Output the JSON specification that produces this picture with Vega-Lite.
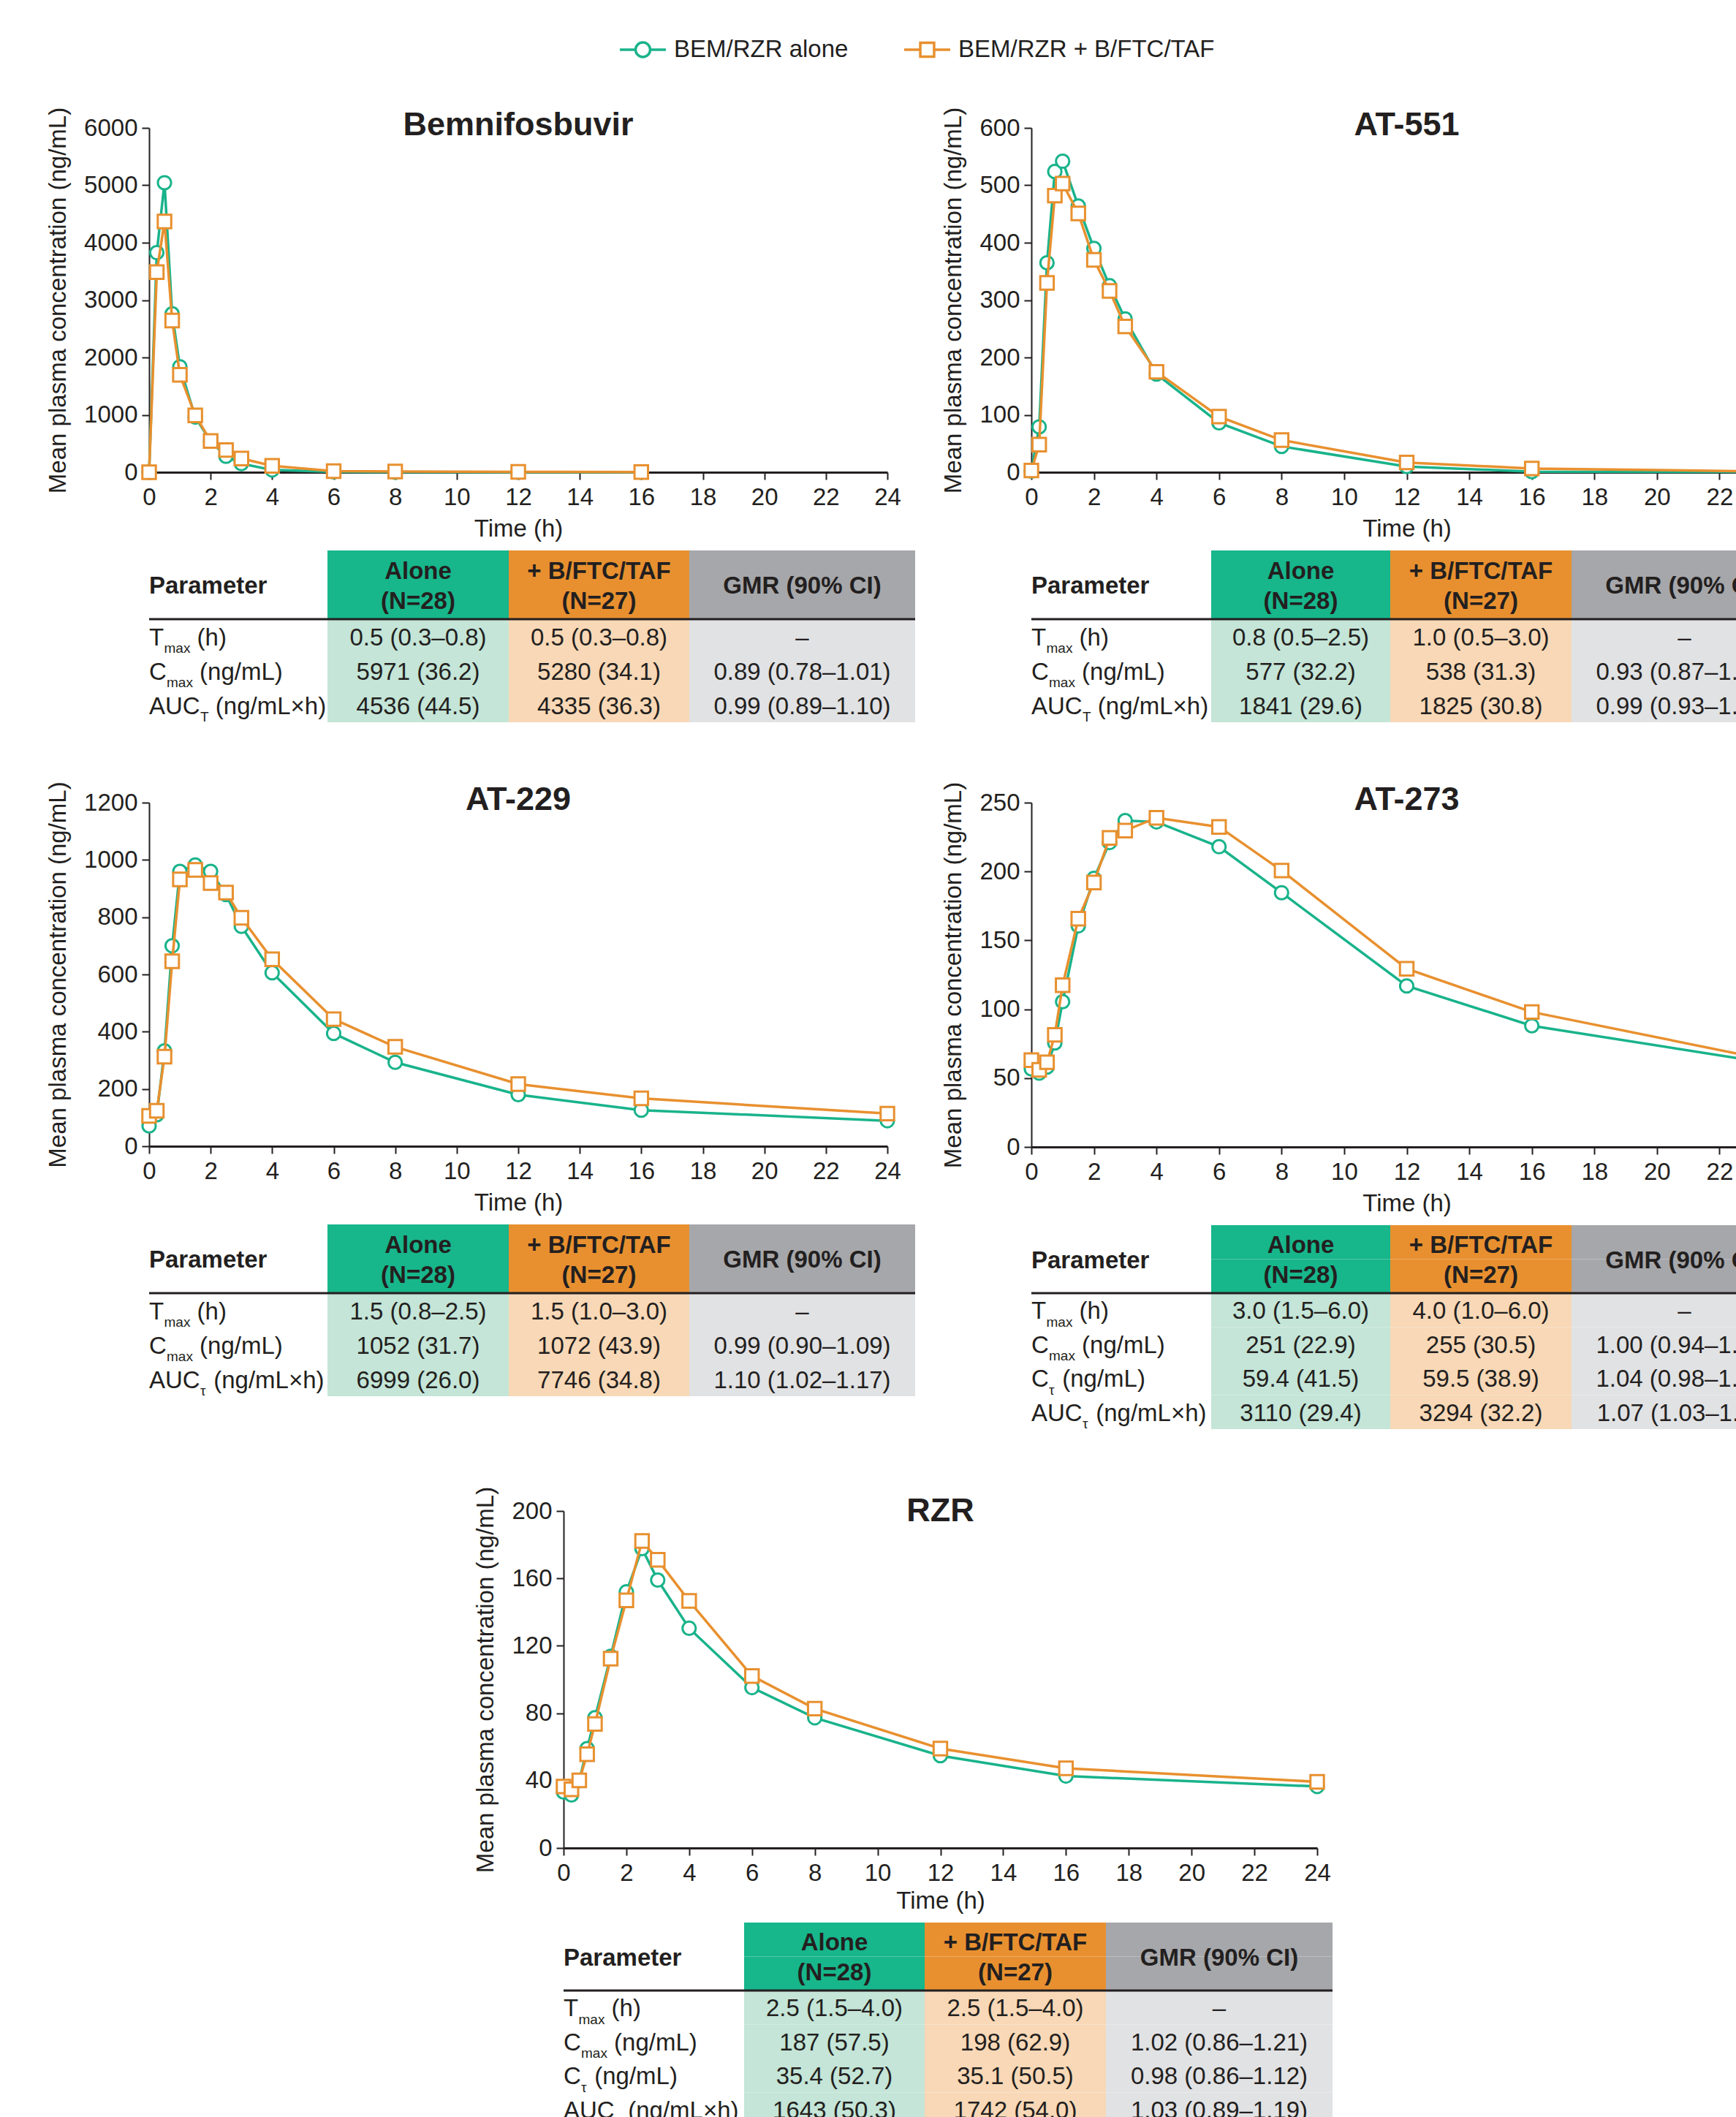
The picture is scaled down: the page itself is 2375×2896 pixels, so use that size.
{
"$schema":"https://vega.github.io/schema/vega-lite/v6.json",
"padding":{"left":63,"top":34,"right":0,"bottom":0},
"config":{
 "font":"Liberation Sans",
 "view":{"stroke":null},
 "axis":{"labelFont":"Liberation Sans","labelFontSize":33,"labelColor":"#231f20","titleFont":"Liberation Sans","titleFontSize":33,"titleFontWeight":"normal","titleColor":"#231f20","domainColor":"#231f20","tickColor":"#231f20","tickSize":10,"tickWidth":2,"domainWidth":2,"grid":false,"labelFlush":false,"labelOverlap":false},
 "axisX":{"domainWidth":3,"labelPadding":8,"titlePadding":10},
 "axisY":{"labelPadding":6,"titlePadding":18,"format":"d"},
 "title":{"font":"Liberation Sans","fontSize":45,"fontWeight":"bold","color":"#231f20","anchor":"middle","frame":"group"},
 "text":{"font":"Liberation Sans","fontSize":33,"color":"#231f20"}
},
"datasets":{
 "hdr":[{"row":"h1"},{"row":"h2","param":"Parameter","alone":"Alone\n(N=28)","combo":"+ B/FTC/TAF\n(N=27)","gmr":"GMR (90% CI)"}],
 "tbl":[
  {"tid":"BEM","row":"r1","base":"T","sub":"max","unit":"(h)","alone":"0.5 (0.3–0.8)","combo":"0.5 (0.3–0.8)","gmr":"–"},
  {"tid":"BEM","row":"r2","base":"C","sub":"max","unit":"(ng/mL)","alone":"5971 (36.2)","combo":"5280 (34.1)","gmr":"0.89 (0.78–1.01)"},
  {"tid":"BEM","row":"r3","base":"AUC","sub":"T","unit":"(ng/mL×h)","alone":"4536 (44.5)","combo":"4335 (36.3)","gmr":"0.99 (0.89–1.10)"},
  {"tid":"AT551","row":"r1","base":"T","sub":"max","unit":"(h)","alone":"0.8 (0.5–2.5)","combo":"1.0 (0.5–3.0)","gmr":"–"},
  {"tid":"AT551","row":"r2","base":"C","sub":"max","unit":"(ng/mL)","alone":"577 (32.2)","combo":"538 (31.3)","gmr":"0.93 (0.87–1.00)"},
  {"tid":"AT551","row":"r3","base":"AUC","sub":"T","unit":"(ng/mL×h)","alone":"1841 (29.6)","combo":"1825 (30.8)","gmr":"0.99 (0.93–1.05)"},
  {"tid":"AT229","row":"r1","base":"T","sub":"max","unit":"(h)","alone":"1.5 (0.8–2.5)","combo":"1.5 (1.0–3.0)","gmr":"–"},
  {"tid":"AT229","row":"r2","base":"C","sub":"max","unit":"(ng/mL)","alone":"1052 (31.7)","combo":"1072 (43.9)","gmr":"0.99 (0.90–1.09)"},
  {"tid":"AT229","row":"r3","base":"AUC","sub":"τ","unit":"(ng/mL×h)","alone":"6999 (26.0)","combo":"7746 (34.8)","gmr":"1.10 (1.02–1.17)"},
  {"tid":"AT273","row":"r1","base":"T","sub":"max","unit":"(h)","alone":"3.0 (1.5–6.0)","combo":"4.0 (1.0–6.0)","gmr":"–"},
  {"tid":"AT273","row":"r2","base":"C","sub":"max","unit":"(ng/mL)","alone":"251 (22.9)","combo":"255 (30.5)","gmr":"1.00 (0.94–1.06)"},
  {"tid":"AT273","row":"r3","base":"C","sub":"τ","unit":"(ng/mL)","alone":"59.4 (41.5)","combo":"59.5 (38.9)","gmr":"1.04 (0.98–1.10)"},
  {"tid":"AT273","row":"r4","base":"AUC","sub":"τ","unit":"(ng/mL×h)","alone":"3110 (29.4)","combo":"3294 (32.2)","gmr":"1.07 (1.03–1.11)"},
  {"tid":"RZR","row":"r1","base":"T","sub":"max","unit":"(h)","alone":"2.5 (1.5–4.0)","combo":"2.5 (1.5–4.0)","gmr":"–"},
  {"tid":"RZR","row":"r2","base":"C","sub":"max","unit":"(ng/mL)","alone":"187 (57.5)","combo":"198 (62.9)","gmr":"1.02 (0.86–1.21)"},
  {"tid":"RZR","row":"r3","base":"C","sub":"τ","unit":"(ng/mL)","alone":"35.4 (52.7)","combo":"35.1 (50.5)","gmr":"0.98 (0.86–1.12)"},
  {"tid":"RZR","row":"r4","base":"AUC","sub":"τ","unit":"(ng/mL×h)","alone":"1643 (50.3)","combo":"1742 (54.0)","gmr":"1.03 (0.89–1.19)"}
 ],
 "pk":[
  {"drug":"BEM","arm":"A","time":0,"conc":0},{"drug":"BEM","arm":"A","time":0.25,"conc":3827},{"drug":"BEM","arm":"A","time":0.5,"conc":5045},{"drug":"BEM","arm":"A","time":0.75,"conc":2760},{"drug":"BEM","arm":"A","time":1,"conc":1838},{"drug":"BEM","arm":"A","time":1.5,"conc":960},{"drug":"BEM","arm":"A","time":2,"conc":540},{"drug":"BEM","arm":"A","time":2.5,"conc":277},{"drug":"BEM","arm":"A","time":3,"conc":150},{"drug":"BEM","arm":"A","time":4,"conc":40},{"drug":"BEM","arm":"A","time":6,"conc":6},{"drug":"BEM","arm":"A","time":8,"conc":2},{"drug":"BEM","arm":"A","time":12,"conc":1},{"drug":"BEM","arm":"A","time":16,"conc":0.5},
  {"drug":"BEM","arm":"B","time":0,"conc":0},{"drug":"BEM","arm":"B","time":0.25,"conc":3488},{"drug":"BEM","arm":"B","time":0.5,"conc":4370},{"drug":"BEM","arm":"B","time":0.75,"conc":2643},{"drug":"BEM","arm":"B","time":1,"conc":1697},{"drug":"BEM","arm":"B","time":1.5,"conc":991},{"drug":"BEM","arm":"B","time":2,"conc":545},{"drug":"BEM","arm":"B","time":2.5,"conc":387},{"drug":"BEM","arm":"B","time":3,"conc":240},{"drug":"BEM","arm":"B","time":4,"conc":112},{"drug":"BEM","arm":"B","time":6,"conc":20},{"drug":"BEM","arm":"B","time":8,"conc":12},{"drug":"BEM","arm":"B","time":12,"conc":6},{"drug":"BEM","arm":"B","time":16,"conc":4},
  {"drug":"AT551","arm":"A","time":0,"conc":2},{"drug":"AT551","arm":"A","time":0.25,"conc":79},{"drug":"AT551","arm":"A","time":0.5,"conc":365},{"drug":"AT551","arm":"A","time":0.75,"conc":524},{"drug":"AT551","arm":"A","time":1,"conc":542},{"drug":"AT551","arm":"A","time":1.5,"conc":464},{"drug":"AT551","arm":"A","time":2,"conc":390},{"drug":"AT551","arm":"A","time":2.5,"conc":325},{"drug":"AT551","arm":"A","time":3,"conc":267},{"drug":"AT551","arm":"A","time":4,"conc":171},{"drug":"AT551","arm":"A","time":6,"conc":86},{"drug":"AT551","arm":"A","time":8,"conc":45},{"drug":"AT551","arm":"A","time":12,"conc":10},{"drug":"AT551","arm":"A","time":16,"conc":1},{"drug":"AT551","arm":"A","time":24,"conc":0.5},
  {"drug":"AT551","arm":"B","time":0,"conc":3},{"drug":"AT551","arm":"B","time":0.25,"conc":48},{"drug":"AT551","arm":"B","time":0.5,"conc":330},{"drug":"AT551","arm":"B","time":0.75,"conc":482},{"drug":"AT551","arm":"B","time":1,"conc":503},{"drug":"AT551","arm":"B","time":1.5,"conc":451},{"drug":"AT551","arm":"B","time":2,"conc":370},{"drug":"AT551","arm":"B","time":2.5,"conc":316},{"drug":"AT551","arm":"B","time":3,"conc":254},{"drug":"AT551","arm":"B","time":4,"conc":175},{"drug":"AT551","arm":"B","time":6,"conc":97},{"drug":"AT551","arm":"B","time":8,"conc":56},{"drug":"AT551","arm":"B","time":12,"conc":17},{"drug":"AT551","arm":"B","time":16,"conc":6.5},{"drug":"AT551","arm":"B","time":24,"conc":1},
  {"drug":"AT229","arm":"A","time":0,"conc":71},{"drug":"AT229","arm":"A","time":0.25,"conc":110},{"drug":"AT229","arm":"A","time":0.5,"conc":333},{"drug":"AT229","arm":"A","time":0.75,"conc":700},{"drug":"AT229","arm":"A","time":1,"conc":960},{"drug":"AT229","arm":"A","time":1.5,"conc":982},{"drug":"AT229","arm":"A","time":2,"conc":960},{"drug":"AT229","arm":"A","time":2.5,"conc":879},{"drug":"AT229","arm":"A","time":3,"conc":768},{"drug":"AT229","arm":"A","time":4,"conc":606},{"drug":"AT229","arm":"A","time":6,"conc":394},{"drug":"AT229","arm":"A","time":8,"conc":293},{"drug":"AT229","arm":"A","time":12,"conc":180},{"drug":"AT229","arm":"A","time":16,"conc":126},{"drug":"AT229","arm":"A","time":24,"conc":89},
  {"drug":"AT229","arm":"B","time":0,"conc":106},{"drug":"AT229","arm":"B","time":0.25,"conc":124},{"drug":"AT229","arm":"B","time":0.5,"conc":313},{"drug":"AT229","arm":"B","time":0.75,"conc":646},{"drug":"AT229","arm":"B","time":1,"conc":932},{"drug":"AT229","arm":"B","time":1.5,"conc":965},{"drug":"AT229","arm":"B","time":2,"conc":919},{"drug":"AT229","arm":"B","time":2.5,"conc":886},{"drug":"AT229","arm":"B","time":3,"conc":798},{"drug":"AT229","arm":"B","time":4,"conc":653},{"drug":"AT229","arm":"B","time":6,"conc":444},{"drug":"AT229","arm":"B","time":8,"conc":347},{"drug":"AT229","arm":"B","time":12,"conc":217},{"drug":"AT229","arm":"B","time":16,"conc":167},{"drug":"AT229","arm":"B","time":24,"conc":114},
  {"drug":"AT273","arm":"A","time":0,"conc":56.7},{"drug":"AT273","arm":"A","time":0.25,"conc":53.6},{"drug":"AT273","arm":"A","time":0.5,"conc":58},{"drug":"AT273","arm":"A","time":0.75,"conc":75.5},{"drug":"AT273","arm":"A","time":1,"conc":105.5},{"drug":"AT273","arm":"A","time":1.5,"conc":160.5},{"drug":"AT273","arm":"A","time":2,"conc":195},{"drug":"AT273","arm":"A","time":2.5,"conc":221},{"drug":"AT273","arm":"A","time":3,"conc":237},{"drug":"AT273","arm":"A","time":4,"conc":236},{"drug":"AT273","arm":"A","time":6,"conc":218},{"drug":"AT273","arm":"A","time":8,"conc":184.6},{"drug":"AT273","arm":"A","time":12,"conc":116.9},{"drug":"AT273","arm":"A","time":16,"conc":88},{"drug":"AT273","arm":"A","time":24,"conc":59.3},
  {"drug":"AT273","arm":"B","time":0,"conc":63},{"drug":"AT273","arm":"B","time":0.25,"conc":56},{"drug":"AT273","arm":"B","time":0.5,"conc":61.5},{"drug":"AT273","arm":"B","time":0.75,"conc":81.4},{"drug":"AT273","arm":"B","time":1,"conc":117.4},{"drug":"AT273","arm":"B","time":1.5,"conc":165.7},{"drug":"AT273","arm":"B","time":2,"conc":192},{"drug":"AT273","arm":"B","time":2.5,"conc":224.4},{"drug":"AT273","arm":"B","time":3,"conc":229.7},{"drug":"AT273","arm":"B","time":4,"conc":239},{"drug":"AT273","arm":"B","time":6,"conc":232.4},{"drug":"AT273","arm":"B","time":8,"conc":200.7},{"drug":"AT273","arm":"B","time":12,"conc":129.4},{"drug":"AT273","arm":"B","time":16,"conc":98},{"drug":"AT273","arm":"B","time":24,"conc":61.2},
  {"drug":"RZR","arm":"A","time":0,"conc":33.2},{"drug":"RZR","arm":"A","time":0.25,"conc":31.5},{"drug":"RZR","arm":"A","time":0.5,"conc":40},{"drug":"RZR","arm":"A","time":0.75,"conc":59},{"drug":"RZR","arm":"A","time":1,"conc":77.3},{"drug":"RZR","arm":"A","time":1.5,"conc":113.7},{"drug":"RZR","arm":"A","time":2,"conc":152},{"drug":"RZR","arm":"A","time":2.5,"conc":177.7},{"drug":"RZR","arm":"A","time":3,"conc":159},{"drug":"RZR","arm":"A","time":4,"conc":130.4},{"drug":"RZR","arm":"A","time":6,"conc":95.2},{"drug":"RZR","arm":"A","time":8,"conc":77.3},{"drug":"RZR","arm":"A","time":12,"conc":54.8},{"drug":"RZR","arm":"A","time":16,"conc":42.7},{"drug":"RZR","arm":"A","time":24,"conc":36.5},
  {"drug":"RZR","arm":"B","time":0,"conc":36.5},{"drug":"RZR","arm":"B","time":0.25,"conc":34.8},{"drug":"RZR","arm":"B","time":0.5,"conc":40.1},{"drug":"RZR","arm":"B","time":0.75,"conc":55.6},{"drug":"RZR","arm":"B","time":1,"conc":73.6},{"drug":"RZR","arm":"B","time":1.5,"conc":112.4},{"drug":"RZR","arm":"B","time":2,"conc":147},{"drug":"RZR","arm":"B","time":2.5,"conc":182.2},{"drug":"RZR","arm":"B","time":3,"conc":171},{"drug":"RZR","arm":"B","time":4,"conc":146.6},{"drug":"RZR","arm":"B","time":6,"conc":102.1},{"drug":"RZR","arm":"B","time":8,"conc":82.7},{"drug":"RZR","arm":"B","time":12,"conc":59},{"drug":"RZR","arm":"B","time":16,"conc":47.3},{"drug":"RZR","arm":"B","time":24,"conc":39.3}
 ]
},
"vconcat":[
 {"vconcat":[
  {"hconcat":[
   {"vconcat":[
    {"width":1010,"height":471,
     "title":{"text":"Bemnifosbuvir","offset":-84,"baseline":"alphabetic"},
     "data":{"name":"pk"},
     "encoding":{
      "x":{"field":"time","type":"quantitative","scale":{"domain":[0,24],"nice":false,"zero":false},"axis":{"values":[0,2,4,6,8,10,12,14,16,18,20,22,24],"title":"Time (h)"}},
      "y":{"field":"conc","type":"quantitative","scale":{"domain":[0,6000],"nice":false},"axis":{"values":[0,1000,2000,3000,4000,5000,6000],"title":"Mean plasma concentration (ng/mL)"}}},
     "layer":[
      {"transform":[{"filter":"datum.drug=='BEM' && datum.arm=='A'"}],"mark":{"type":"line","color":"#19b38b","strokeWidth":3.5}},
      {"transform":[{"filter":"datum.drug=='BEM' && datum.arm=='A'"}],"mark":{"type":"point","shape":"circle","filled":true,"fill":"white","stroke":"#19b38b","strokeWidth":3,"size":330,"opacity":1}},
      {"transform":[{"filter":"datum.drug=='BEM' && datum.arm=='B'"}],"mark":{"type":"line","color":"#e8902f","strokeWidth":3.5}},
      {"transform":[{"filter":"datum.drug=='BEM' && datum.arm=='B'"}],"mark":{"type":"point","shape":"square","filled":true,"fill":"white","stroke":"#e8902f","strokeWidth":3,"size":340,"opacity":1}},
      {"data":{"values":[{"arm":"BEM/RZR alone"},{"arm":"BEM/RZR + B/FTC/TAF"}]},
       "mark":{"type":"point","filled":false,"opacity":0,"size":3969,"strokeWidth":3.5},
       "encoding":{
        "x":{"datum":12,"type":"quantitative"},"y":{"datum":0,"type":"quantitative"},
        "color":{"field":"arm","type":"nominal","scale":{"domain":["BEM/RZR alone","BEM/RZR + B/FTC/TAF"],"range":["#19b38b","#e8902f"]},
          "legend":{"orient":"none","legendX":642,"legendY":-140.7,"direction":"horizontal","title":null,"labelFontSize":33,"labelFont":"Liberation Sans","labelColor":"#231f20","labelLimit":1000,"labelOffset":9,"columnPadding":69,"symbolSize":3969,"symbolStrokeWidth":3.5,"symbolOpacity":1,"padding":0}},
        "shape":{"field":"arm","type":"nominal","scale":{"domain":["BEM/RZR alone","BEM/RZR + B/FTC/TAF"],"range":["M-1,0L-0.317,0M0.317,0L1,0M0.317,0A0.317,0.317,0,1,1,-0.317,0A0.317,0.317,0,1,1,0.317,0Z","M-1,0L-0.3,0M0.3,0L1,0M-0.3,-0.3L0.3,-0.3L0.3,0.3L-0.3,0.3Z"]},
          "legend":{"orient":"none","legendX":642,"legendY":-140.7,"direction":"horizontal","title":null,"labelFontSize":33,"labelFont":"Liberation Sans","labelColor":"#231f20","labelLimit":1000,"labelOffset":9,"columnPadding":69,"symbolSize":3969,"symbolStrokeWidth":3.5,"symbolOpacity":1,"padding":0}}}}
     ]},
    {"hconcat":[
     {"width":244,"height":{"step":47},"layer":[
      {"data":{"name":"hdr"},"transform":[{"filter":"datum.row=='h2'"}],"mark":{"type":"text","align":"left","baseline":"middle","dy":2,"fontWeight":"bold"},"encoding":{"x":{"datum":0,"type":"quantitative","scale":{"domain":[0,1]},"axis":null},"y":{"field":"row","type":"nominal","bandPosition":0,"scale":{"type":"band","domain":["h1","h2","r1","r2","r3"],"paddingInner":0,"paddingOuter":0},"axis":null},"text":{"field":"param"}}},
      {"data":{"name":"tbl"},"transform":[{"filter":"datum.tid=='BEM'"}],"mark":{"type":"text","align":"left","baseline":"middle","dy":2},"encoding":{"x":{"datum":0,"type":"quantitative","scale":{"domain":[0,1]},"axis":null},"y":{"field":"row","type":"nominal","scale":{"type":"band","domain":["h1","h2","r1","r2","r3"],"paddingInner":0,"paddingOuter":0},"axis":null},"text":{"field":"base"}}},
      {"data":{"name":"tbl"},"transform":[{"filter":"datum.tid=='BEM' && datum.base=='T'"}],"mark":{"type":"text","align":"left","baseline":"middle","dy":16.7,"dx":20.5,"fontSize":19},"encoding":{"x":{"datum":0,"type":"quantitative","scale":{"domain":[0,1]},"axis":null},"y":{"field":"row","type":"nominal","scale":{"type":"band","domain":["h1","h2","r1","r2","r3"],"paddingInner":0,"paddingOuter":0},"axis":null},"text":{"field":"sub"}}},
      {"data":{"name":"tbl"},"transform":[{"filter":"datum.tid=='BEM' && datum.base=='C'"}],"mark":{"type":"text","align":"left","baseline":"middle","dy":16.7,"dx":24,"fontSize":19},"encoding":{"x":{"datum":0,"type":"quantitative","scale":{"domain":[0,1]},"axis":null},"y":{"field":"row","type":"nominal","scale":{"type":"band","domain":["h1","h2","r1","r2","r3"],"paddingInner":0,"paddingOuter":0},"axis":null},"text":{"field":"sub"}}},
      {"data":{"name":"tbl"},"transform":[{"filter":"datum.tid=='BEM' && datum.base=='AUC'"}],"mark":{"type":"text","align":"left","baseline":"middle","dy":16.7,"dx":70,"fontSize":19},"encoding":{"x":{"datum":0,"type":"quantitative","scale":{"domain":[0,1]},"axis":null},"y":{"field":"row","type":"nominal","scale":{"type":"band","domain":["h1","h2","r1","r2","r3"],"paddingInner":0,"paddingOuter":0},"axis":null},"text":{"field":"sub"}}},
      {"data":{"name":"tbl"},"transform":[{"filter":"datum.tid=='BEM' && datum.base=='T'"}],"mark":{"type":"text","align":"left","baseline":"middle","dy":2,"dx":65.6},"encoding":{"x":{"datum":0,"type":"quantitative","scale":{"domain":[0,1]},"axis":null},"y":{"field":"row","type":"nominal","scale":{"type":"band","domain":["h1","h2","r1","r2","r3"],"paddingInner":0,"paddingOuter":0},"axis":null},"text":{"field":"unit"}}},
      {"data":{"name":"tbl"},"transform":[{"filter":"datum.tid=='BEM' && datum.base=='C' && datum.sub=='max'"}],"mark":{"type":"text","align":"left","baseline":"middle","dy":2,"dx":69.1},"encoding":{"x":{"datum":0,"type":"quantitative","scale":{"domain":[0,1]},"axis":null},"y":{"field":"row","type":"nominal","scale":{"type":"band","domain":["h1","h2","r1","r2","r3"],"paddingInner":0,"paddingOuter":0},"axis":null},"text":{"field":"unit"}}},
      {"data":{"name":"tbl"},"transform":[{"filter":"datum.tid=='BEM' && datum.base=='AUC' && datum.sub=='T'"}],"mark":{"type":"text","align":"left","baseline":"middle","dy":2,"dx":90.8},"encoding":{"x":{"datum":0,"type":"quantitative","scale":{"domain":[0,1]},"axis":null},"y":{"field":"row","type":"nominal","scale":{"type":"band","domain":["h1","h2","r1","r2","r3"],"paddingInner":0,"paddingOuter":0},"axis":null},"text":{"field":"unit"}}},
      {"data":{"name":"tbl"},"transform":[{"filter":"datum.tid=='BEM' && datum.row=='r1'"}],"mark":{"type":"rule","strokeWidth":3,"color":"#231f20"},"encoding":{"y":{"field":"row","type":"nominal","bandPosition":0,"scale":{"type":"band","domain":["h1","h2","r1","r2","r3"],"paddingInner":0,"paddingOuter":0},"axis":null}}}
     ]},
     {"width":248,"height":{"step":47},"layer":[
      {"data":{"name":"hdr"},"mark":{"type":"rect","color":"#17b68b"},"encoding":{"y":{"field":"row","type":"nominal","scale":{"type":"band","domain":["h1","h2","r1","r2","r3"],"paddingInner":0,"paddingOuter":0},"axis":null}}},
      {"data":{"name":"tbl"},"transform":[{"filter":"datum.tid=='BEM'"}],"mark":{"type":"rect","color":"#c4e5d7"},"encoding":{"y":{"field":"row","type":"nominal","scale":{"type":"band","domain":["h1","h2","r1","r2","r3"],"paddingInner":0,"paddingOuter":0},"axis":null}}},
      {"data":{"name":"hdr"},"transform":[{"filter":"datum.row=='h2'"}],"mark":{"type":"text","baseline":"middle","dy":-18.5,"fontWeight":"bold","lineBreak":"\n","lineHeight":41},"encoding":{"y":{"field":"row","type":"nominal","bandPosition":0,"scale":{"type":"band","domain":["h1","h2","r1","r2","r3"],"paddingInner":0,"paddingOuter":0},"axis":null},"text":{"field":"alone"}}},
      {"data":{"name":"tbl"},"transform":[{"filter":"datum.tid=='BEM'"}],"mark":{"type":"text","baseline":"middle","dy":2},"encoding":{"y":{"field":"row","type":"nominal","scale":{"type":"band","domain":["h1","h2","r1","r2","r3"],"paddingInner":0,"paddingOuter":0},"axis":null},"text":{"field":"alone"}}},
      {"data":{"name":"tbl"},"transform":[{"filter":"datum.tid=='BEM' && datum.row=='r1'"}],"mark":{"type":"rule","strokeWidth":3,"color":"#231f20"},"encoding":{"y":{"field":"row","type":"nominal","bandPosition":0,"scale":{"type":"band","domain":["h1","h2","r1","r2","r3"],"paddingInner":0,"paddingOuter":0},"axis":null}}}
     ]},
     {"width":247,"height":{"step":47},"layer":[
      {"data":{"name":"hdr"},"mark":{"type":"rect","color":"#e8902f"},"encoding":{"y":{"field":"row","type":"nominal","scale":{"type":"band","domain":["h1","h2","r1","r2","r3"],"paddingInner":0,"paddingOuter":0},"axis":null}}},
      {"data":{"name":"tbl"},"transform":[{"filter":"datum.tid=='BEM'"}],"mark":{"type":"rect","color":"#f8d8b6"},"encoding":{"y":{"field":"row","type":"nominal","scale":{"type":"band","domain":["h1","h2","r1","r2","r3"],"paddingInner":0,"paddingOuter":0},"axis":null}}},
      {"data":{"name":"hdr"},"transform":[{"filter":"datum.row=='h2'"}],"mark":{"type":"text","baseline":"middle","dy":-18.5,"fontWeight":"bold","lineBreak":"\n","lineHeight":41},"encoding":{"y":{"field":"row","type":"nominal","bandPosition":0,"scale":{"type":"band","domain":["h1","h2","r1","r2","r3"],"paddingInner":0,"paddingOuter":0},"axis":null},"text":{"field":"combo"}}},
      {"data":{"name":"tbl"},"transform":[{"filter":"datum.tid=='BEM'"}],"mark":{"type":"text","baseline":"middle","dy":2},"encoding":{"y":{"field":"row","type":"nominal","scale":{"type":"band","domain":["h1","h2","r1","r2","r3"],"paddingInner":0,"paddingOuter":0},"axis":null},"text":{"field":"combo"}}},
      {"data":{"name":"tbl"},"transform":[{"filter":"datum.tid=='BEM' && datum.row=='r1'"}],"mark":{"type":"rule","strokeWidth":3,"color":"#231f20"},"encoding":{"y":{"field":"row","type":"nominal","bandPosition":0,"scale":{"type":"band","domain":["h1","h2","r1","r2","r3"],"paddingInner":0,"paddingOuter":0},"axis":null}}}
     ]},
     {"width":309,"height":{"step":47},"layer":[
      {"data":{"name":"hdr"},"mark":{"type":"rect","color":"#a6a7aa"},"encoding":{"y":{"field":"row","type":"nominal","scale":{"type":"band","domain":["h1","h2","r1","r2","r3"],"paddingInner":0,"paddingOuter":0},"axis":null}}},
      {"data":{"name":"tbl"},"transform":[{"filter":"datum.tid=='BEM'"}],"mark":{"type":"rect","color":"#e1e2e4"},"encoding":{"y":{"field":"row","type":"nominal","scale":{"type":"band","domain":["h1","h2","r1","r2","r3"],"paddingInner":0,"paddingOuter":0},"axis":null}}},
      {"data":{"name":"hdr"},"transform":[{"filter":"datum.row=='h2'"}],"mark":{"type":"text","baseline":"middle","dy":2,"fontWeight":"bold"},"encoding":{"y":{"field":"row","type":"nominal","bandPosition":0,"scale":{"type":"band","domain":["h1","h2","r1","r2","r3"],"paddingInner":0,"paddingOuter":0},"axis":null},"text":{"field":"gmr"}}},
      {"data":{"name":"tbl"},"transform":[{"filter":"datum.tid=='BEM'"}],"mark":{"type":"text","baseline":"middle","dy":2},"encoding":{"y":{"field":"row","type":"nominal","scale":{"type":"band","domain":["h1","h2","r1","r2","r3"],"paddingInner":0,"paddingOuter":0},"axis":null},"text":{"field":"gmr"}}},
      {"data":{"name":"tbl"},"transform":[{"filter":"datum.tid=='BEM' && datum.row=='r1'"}],"mark":{"type":"rule","strokeWidth":3,"color":"#231f20"},"encoding":{"y":{"field":"row","type":"nominal","bandPosition":0,"scale":{"type":"band","domain":["h1","h2","r1","r2","r3"],"paddingInner":0,"paddingOuter":0},"axis":null}}}
     ]}
    ],"spacing":0,"bounds":"flush"}
   ],"spacing":13},
   {"vconcat":[
    {"width":1027,"height":471,
     "title":{"text":"AT-551","offset":-84,"baseline":"alphabetic"},
     "data":{"name":"pk"},
     "encoding":{
      "x":{"field":"time","type":"quantitative","scale":{"domain":[0,24],"nice":false,"zero":false},"axis":{"values":[0,2,4,6,8,10,12,14,16,18,20,22,24],"title":"Time (h)"}},
      "y":{"field":"conc","type":"quantitative","scale":{"domain":[0,600],"nice":false},"axis":{"values":[0,100,200,300,400,500,600],"title":"Mean plasma concentration (ng/mL)"}}},
     "layer":[
      {"transform":[{"filter":"datum.drug=='AT551' && datum.arm=='A'"}],"mark":{"type":"line","color":"#19b38b","strokeWidth":3.5}},
      {"transform":[{"filter":"datum.drug=='AT551' && datum.arm=='A'"}],"mark":{"type":"point","shape":"circle","filled":true,"fill":"white","stroke":"#19b38b","strokeWidth":3,"size":330,"opacity":1}},
      {"transform":[{"filter":"datum.drug=='AT551' && datum.arm=='B'"}],"mark":{"type":"line","color":"#e8902f","strokeWidth":3.5}},
      {"transform":[{"filter":"datum.drug=='AT551' && datum.arm=='B'"}],"mark":{"type":"point","shape":"square","filled":true,"fill":"white","stroke":"#e8902f","strokeWidth":3,"size":340,"opacity":1}}
     ]},
    {"hconcat":[
     {"width":246,"height":{"step":47},"layer":[
      {"data":{"name":"hdr"},"transform":[{"filter":"datum.row=='h2'"}],"mark":{"type":"text","align":"left","baseline":"middle","dy":2,"fontWeight":"bold"},"encoding":{"x":{"datum":0,"type":"quantitative","scale":{"domain":[0,1]},"axis":null},"y":{"field":"row","type":"nominal","bandPosition":0,"scale":{"type":"band","domain":["h1","h2","r1","r2","r3"],"paddingInner":0,"paddingOuter":0},"axis":null},"text":{"field":"param"}}},
      {"data":{"name":"tbl"},"transform":[{"filter":"datum.tid=='AT551'"}],"mark":{"type":"text","align":"left","baseline":"middle","dy":2},"encoding":{"x":{"datum":0,"type":"quantitative","scale":{"domain":[0,1]},"axis":null},"y":{"field":"row","type":"nominal","scale":{"type":"band","domain":["h1","h2","r1","r2","r3"],"paddingInner":0,"paddingOuter":0},"axis":null},"text":{"field":"base"}}},
      {"data":{"name":"tbl"},"transform":[{"filter":"datum.tid=='AT551' && datum.base=='T'"}],"mark":{"type":"text","align":"left","baseline":"middle","dy":16.7,"dx":20.5,"fontSize":19},"encoding":{"x":{"datum":0,"type":"quantitative","scale":{"domain":[0,1]},"axis":null},"y":{"field":"row","type":"nominal","scale":{"type":"band","domain":["h1","h2","r1","r2","r3"],"paddingInner":0,"paddingOuter":0},"axis":null},"text":{"field":"sub"}}},
      {"data":{"name":"tbl"},"transform":[{"filter":"datum.tid=='AT551' && datum.base=='C'"}],"mark":{"type":"text","align":"left","baseline":"middle","dy":16.7,"dx":24,"fontSize":19},"encoding":{"x":{"datum":0,"type":"quantitative","scale":{"domain":[0,1]},"axis":null},"y":{"field":"row","type":"nominal","scale":{"type":"band","domain":["h1","h2","r1","r2","r3"],"paddingInner":0,"paddingOuter":0},"axis":null},"text":{"field":"sub"}}},
      {"data":{"name":"tbl"},"transform":[{"filter":"datum.tid=='AT551' && datum.base=='AUC'"}],"mark":{"type":"text","align":"left","baseline":"middle","dy":16.7,"dx":70,"fontSize":19},"encoding":{"x":{"datum":0,"type":"quantitative","scale":{"domain":[0,1]},"axis":null},"y":{"field":"row","type":"nominal","scale":{"type":"band","domain":["h1","h2","r1","r2","r3"],"paddingInner":0,"paddingOuter":0},"axis":null},"text":{"field":"sub"}}},
      {"data":{"name":"tbl"},"transform":[{"filter":"datum.tid=='AT551' && datum.base=='T'"}],"mark":{"type":"text","align":"left","baseline":"middle","dy":2,"dx":65.6},"encoding":{"x":{"datum":0,"type":"quantitative","scale":{"domain":[0,1]},"axis":null},"y":{"field":"row","type":"nominal","scale":{"type":"band","domain":["h1","h2","r1","r2","r3"],"paddingInner":0,"paddingOuter":0},"axis":null},"text":{"field":"unit"}}},
      {"data":{"name":"tbl"},"transform":[{"filter":"datum.tid=='AT551' && datum.base=='C' && datum.sub=='max'"}],"mark":{"type":"text","align":"left","baseline":"middle","dy":2,"dx":69.1},"encoding":{"x":{"datum":0,"type":"quantitative","scale":{"domain":[0,1]},"axis":null},"y":{"field":"row","type":"nominal","scale":{"type":"band","domain":["h1","h2","r1","r2","r3"],"paddingInner":0,"paddingOuter":0},"axis":null},"text":{"field":"unit"}}},
      {"data":{"name":"tbl"},"transform":[{"filter":"datum.tid=='AT551' && datum.base=='AUC' && datum.sub=='T'"}],"mark":{"type":"text","align":"left","baseline":"middle","dy":2,"dx":90.8},"encoding":{"x":{"datum":0,"type":"quantitative","scale":{"domain":[0,1]},"axis":null},"y":{"field":"row","type":"nominal","scale":{"type":"band","domain":["h1","h2","r1","r2","r3"],"paddingInner":0,"paddingOuter":0},"axis":null},"text":{"field":"unit"}}},
      {"data":{"name":"tbl"},"transform":[{"filter":"datum.tid=='AT551' && datum.row=='r1'"}],"mark":{"type":"rule","strokeWidth":3,"color":"#231f20"},"encoding":{"y":{"field":"row","type":"nominal","bandPosition":0,"scale":{"type":"band","domain":["h1","h2","r1","r2","r3"],"paddingInner":0,"paddingOuter":0},"axis":null}}}
     ]},
     {"width":245,"height":{"step":47},"layer":[
      {"data":{"name":"hdr"},"mark":{"type":"rect","color":"#17b68b"},"encoding":{"y":{"field":"row","type":"nominal","scale":{"type":"band","domain":["h1","h2","r1","r2","r3"],"paddingInner":0,"paddingOuter":0},"axis":null}}},
      {"data":{"name":"tbl"},"transform":[{"filter":"datum.tid=='AT551'"}],"mark":{"type":"rect","color":"#c4e5d7"},"encoding":{"y":{"field":"row","type":"nominal","scale":{"type":"band","domain":["h1","h2","r1","r2","r3"],"paddingInner":0,"paddingOuter":0},"axis":null}}},
      {"data":{"name":"hdr"},"transform":[{"filter":"datum.row=='h2'"}],"mark":{"type":"text","baseline":"middle","dy":-18.5,"fontWeight":"bold","lineBreak":"\n","lineHeight":41},"encoding":{"y":{"field":"row","type":"nominal","bandPosition":0,"scale":{"type":"band","domain":["h1","h2","r1","r2","r3"],"paddingInner":0,"paddingOuter":0},"axis":null},"text":{"field":"alone"}}},
      {"data":{"name":"tbl"},"transform":[{"filter":"datum.tid=='AT551'"}],"mark":{"type":"text","baseline":"middle","dy":2},"encoding":{"y":{"field":"row","type":"nominal","scale":{"type":"band","domain":["h1","h2","r1","r2","r3"],"paddingInner":0,"paddingOuter":0},"axis":null},"text":{"field":"alone"}}},
      {"data":{"name":"tbl"},"transform":[{"filter":"datum.tid=='AT551' && datum.row=='r1'"}],"mark":{"type":"rule","strokeWidth":3,"color":"#231f20"},"encoding":{"y":{"field":"row","type":"nominal","bandPosition":0,"scale":{"type":"band","domain":["h1","h2","r1","r2","r3"],"paddingInner":0,"paddingOuter":0},"axis":null}}}
     ]},
     {"width":248,"height":{"step":47},"layer":[
      {"data":{"name":"hdr"},"mark":{"type":"rect","color":"#e8902f"},"encoding":{"y":{"field":"row","type":"nominal","scale":{"type":"band","domain":["h1","h2","r1","r2","r3"],"paddingInner":0,"paddingOuter":0},"axis":null}}},
      {"data":{"name":"tbl"},"transform":[{"filter":"datum.tid=='AT551'"}],"mark":{"type":"rect","color":"#f8d8b6"},"encoding":{"y":{"field":"row","type":"nominal","scale":{"type":"band","domain":["h1","h2","r1","r2","r3"],"paddingInner":0,"paddingOuter":0},"axis":null}}},
      {"data":{"name":"hdr"},"transform":[{"filter":"datum.row=='h2'"}],"mark":{"type":"text","baseline":"middle","dy":-18.5,"fontWeight":"bold","lineBreak":"\n","lineHeight":41},"encoding":{"y":{"field":"row","type":"nominal","bandPosition":0,"scale":{"type":"band","domain":["h1","h2","r1","r2","r3"],"paddingInner":0,"paddingOuter":0},"axis":null},"text":{"field":"combo"}}},
      {"data":{"name":"tbl"},"transform":[{"filter":"datum.tid=='AT551'"}],"mark":{"type":"text","baseline":"middle","dy":2},"encoding":{"y":{"field":"row","type":"nominal","scale":{"type":"band","domain":["h1","h2","r1","r2","r3"],"paddingInner":0,"paddingOuter":0},"axis":null},"text":{"field":"combo"}}},
      {"data":{"name":"tbl"},"transform":[{"filter":"datum.tid=='AT551' && datum.row=='r1'"}],"mark":{"type":"rule","strokeWidth":3,"color":"#231f20"},"encoding":{"y":{"field":"row","type":"nominal","bandPosition":0,"scale":{"type":"band","domain":["h1","h2","r1","r2","r3"],"paddingInner":0,"paddingOuter":0},"axis":null}}}
     ]},
     {"width":309,"height":{"step":47},"layer":[
      {"data":{"name":"hdr"},"mark":{"type":"rect","color":"#a6a7aa"},"encoding":{"y":{"field":"row","type":"nominal","scale":{"type":"band","domain":["h1","h2","r1","r2","r3"],"paddingInner":0,"paddingOuter":0},"axis":null}}},
      {"data":{"name":"tbl"},"transform":[{"filter":"datum.tid=='AT551'"}],"mark":{"type":"rect","color":"#e1e2e4"},"encoding":{"y":{"field":"row","type":"nominal","scale":{"type":"band","domain":["h1","h2","r1","r2","r3"],"paddingInner":0,"paddingOuter":0},"axis":null}}},
      {"data":{"name":"hdr"},"transform":[{"filter":"datum.row=='h2'"}],"mark":{"type":"text","baseline":"middle","dy":2,"fontWeight":"bold"},"encoding":{"y":{"field":"row","type":"nominal","bandPosition":0,"scale":{"type":"band","domain":["h1","h2","r1","r2","r3"],"paddingInner":0,"paddingOuter":0},"axis":null},"text":{"field":"gmr"}}},
      {"data":{"name":"tbl"},"transform":[{"filter":"datum.tid=='AT551'"}],"mark":{"type":"text","baseline":"middle","dy":2},"encoding":{"y":{"field":"row","type":"nominal","scale":{"type":"band","domain":["h1","h2","r1","r2","r3"],"paddingInner":0,"paddingOuter":0},"axis":null},"text":{"field":"gmr"}}},
      {"data":{"name":"tbl"},"transform":[{"filter":"datum.tid=='AT551' && datum.row=='r1'"}],"mark":{"type":"rule","strokeWidth":3,"color":"#231f20"},"encoding":{"y":{"field":"row","type":"nominal","bandPosition":0,"scale":{"type":"band","domain":["h1","h2","r1","r2","r3"],"paddingInner":0,"paddingOuter":0},"axis":null}}}
     ]}
    ],"spacing":0,"bounds":"flush"}
   ],"spacing":13}
  ],"spacing":34},
  {"hconcat":[
   {"vconcat":[
    {"width":1010,"height":470,
     "title":{"text":"AT-229","offset":-84,"baseline":"alphabetic"},
     "data":{"name":"pk"},
     "encoding":{
      "x":{"field":"time","type":"quantitative","scale":{"domain":[0,24],"nice":false,"zero":false},"axis":{"values":[0,2,4,6,8,10,12,14,16,18,20,22,24],"title":"Time (h)"}},
      "y":{"field":"conc","type":"quantitative","scale":{"domain":[0,1200],"nice":false},"axis":{"values":[0,200,400,600,800,1000,1200],"title":"Mean plasma concentration (ng/mL)"}}},
     "layer":[
      {"transform":[{"filter":"datum.drug=='AT229' && datum.arm=='A'"}],"mark":{"type":"line","color":"#19b38b","strokeWidth":3.5}},
      {"transform":[{"filter":"datum.drug=='AT229' && datum.arm=='A'"}],"mark":{"type":"point","shape":"circle","filled":true,"fill":"white","stroke":"#19b38b","strokeWidth":3,"size":330,"opacity":1}},
      {"transform":[{"filter":"datum.drug=='AT229' && datum.arm=='B'"}],"mark":{"type":"line","color":"#e8902f","strokeWidth":3.5}},
      {"transform":[{"filter":"datum.drug=='AT229' && datum.arm=='B'"}],"mark":{"type":"point","shape":"square","filled":true,"fill":"white","stroke":"#e8902f","strokeWidth":3,"size":340,"opacity":1}}
     ]},
    {"hconcat":[
     {"width":244,"height":{"step":47},"layer":[
      {"data":{"name":"hdr"},"transform":[{"filter":"datum.row=='h2'"}],"mark":{"type":"text","align":"left","baseline":"middle","dy":2,"fontWeight":"bold"},"encoding":{"x":{"datum":0,"type":"quantitative","scale":{"domain":[0,1]},"axis":null},"y":{"field":"row","type":"nominal","bandPosition":0,"scale":{"type":"band","domain":["h1","h2","r1","r2","r3"],"paddingInner":0,"paddingOuter":0},"axis":null},"text":{"field":"param"}}},
      {"data":{"name":"tbl"},"transform":[{"filter":"datum.tid=='AT229'"}],"mark":{"type":"text","align":"left","baseline":"middle","dy":2},"encoding":{"x":{"datum":0,"type":"quantitative","scale":{"domain":[0,1]},"axis":null},"y":{"field":"row","type":"nominal","scale":{"type":"band","domain":["h1","h2","r1","r2","r3"],"paddingInner":0,"paddingOuter":0},"axis":null},"text":{"field":"base"}}},
      {"data":{"name":"tbl"},"transform":[{"filter":"datum.tid=='AT229' && datum.base=='T'"}],"mark":{"type":"text","align":"left","baseline":"middle","dy":16.7,"dx":20.5,"fontSize":19},"encoding":{"x":{"datum":0,"type":"quantitative","scale":{"domain":[0,1]},"axis":null},"y":{"field":"row","type":"nominal","scale":{"type":"band","domain":["h1","h2","r1","r2","r3"],"paddingInner":0,"paddingOuter":0},"axis":null},"text":{"field":"sub"}}},
      {"data":{"name":"tbl"},"transform":[{"filter":"datum.tid=='AT229' && datum.base=='C'"}],"mark":{"type":"text","align":"left","baseline":"middle","dy":16.7,"dx":24,"fontSize":19},"encoding":{"x":{"datum":0,"type":"quantitative","scale":{"domain":[0,1]},"axis":null},"y":{"field":"row","type":"nominal","scale":{"type":"band","domain":["h1","h2","r1","r2","r3"],"paddingInner":0,"paddingOuter":0},"axis":null},"text":{"field":"sub"}}},
      {"data":{"name":"tbl"},"transform":[{"filter":"datum.tid=='AT229' && datum.base=='AUC'"}],"mark":{"type":"text","align":"left","baseline":"middle","dy":16.7,"dx":70,"fontSize":19},"encoding":{"x":{"datum":0,"type":"quantitative","scale":{"domain":[0,1]},"axis":null},"y":{"field":"row","type":"nominal","scale":{"type":"band","domain":["h1","h2","r1","r2","r3"],"paddingInner":0,"paddingOuter":0},"axis":null},"text":{"field":"sub"}}},
      {"data":{"name":"tbl"},"transform":[{"filter":"datum.tid=='AT229' && datum.base=='T'"}],"mark":{"type":"text","align":"left","baseline":"middle","dy":2,"dx":65.6},"encoding":{"x":{"datum":0,"type":"quantitative","scale":{"domain":[0,1]},"axis":null},"y":{"field":"row","type":"nominal","scale":{"type":"band","domain":["h1","h2","r1","r2","r3"],"paddingInner":0,"paddingOuter":0},"axis":null},"text":{"field":"unit"}}},
      {"data":{"name":"tbl"},"transform":[{"filter":"datum.tid=='AT229' && datum.base=='C' && datum.sub=='max'"}],"mark":{"type":"text","align":"left","baseline":"middle","dy":2,"dx":69.1},"encoding":{"x":{"datum":0,"type":"quantitative","scale":{"domain":[0,1]},"axis":null},"y":{"field":"row","type":"nominal","scale":{"type":"band","domain":["h1","h2","r1","r2","r3"],"paddingInner":0,"paddingOuter":0},"axis":null},"text":{"field":"unit"}}},
      {"data":{"name":"tbl"},"transform":[{"filter":"datum.tid=='AT229' && datum.base=='AUC' && datum.sub=='τ'"}],"mark":{"type":"text","align":"left","baseline":"middle","dy":2,"dx":88.2},"encoding":{"x":{"datum":0,"type":"quantitative","scale":{"domain":[0,1]},"axis":null},"y":{"field":"row","type":"nominal","scale":{"type":"band","domain":["h1","h2","r1","r2","r3"],"paddingInner":0,"paddingOuter":0},"axis":null},"text":{"field":"unit"}}},
      {"data":{"name":"tbl"},"transform":[{"filter":"datum.tid=='AT229' && datum.row=='r1'"}],"mark":{"type":"rule","strokeWidth":3,"color":"#231f20"},"encoding":{"y":{"field":"row","type":"nominal","bandPosition":0,"scale":{"type":"band","domain":["h1","h2","r1","r2","r3"],"paddingInner":0,"paddingOuter":0},"axis":null}}}
     ]},
     {"width":248,"height":{"step":47},"layer":[
      {"data":{"name":"hdr"},"mark":{"type":"rect","color":"#17b68b"},"encoding":{"y":{"field":"row","type":"nominal","scale":{"type":"band","domain":["h1","h2","r1","r2","r3"],"paddingInner":0,"paddingOuter":0},"axis":null}}},
      {"data":{"name":"tbl"},"transform":[{"filter":"datum.tid=='AT229'"}],"mark":{"type":"rect","color":"#c4e5d7"},"encoding":{"y":{"field":"row","type":"nominal","scale":{"type":"band","domain":["h1","h2","r1","r2","r3"],"paddingInner":0,"paddingOuter":0},"axis":null}}},
      {"data":{"name":"hdr"},"transform":[{"filter":"datum.row=='h2'"}],"mark":{"type":"text","baseline":"middle","dy":-18.5,"fontWeight":"bold","lineBreak":"\n","lineHeight":41},"encoding":{"y":{"field":"row","type":"nominal","bandPosition":0,"scale":{"type":"band","domain":["h1","h2","r1","r2","r3"],"paddingInner":0,"paddingOuter":0},"axis":null},"text":{"field":"alone"}}},
      {"data":{"name":"tbl"},"transform":[{"filter":"datum.tid=='AT229'"}],"mark":{"type":"text","baseline":"middle","dy":2},"encoding":{"y":{"field":"row","type":"nominal","scale":{"type":"band","domain":["h1","h2","r1","r2","r3"],"paddingInner":0,"paddingOuter":0},"axis":null},"text":{"field":"alone"}}},
      {"data":{"name":"tbl"},"transform":[{"filter":"datum.tid=='AT229' && datum.row=='r1'"}],"mark":{"type":"rule","strokeWidth":3,"color":"#231f20"},"encoding":{"y":{"field":"row","type":"nominal","bandPosition":0,"scale":{"type":"band","domain":["h1","h2","r1","r2","r3"],"paddingInner":0,"paddingOuter":0},"axis":null}}}
     ]},
     {"width":247,"height":{"step":47},"layer":[
      {"data":{"name":"hdr"},"mark":{"type":"rect","color":"#e8902f"},"encoding":{"y":{"field":"row","type":"nominal","scale":{"type":"band","domain":["h1","h2","r1","r2","r3"],"paddingInner":0,"paddingOuter":0},"axis":null}}},
      {"data":{"name":"tbl"},"transform":[{"filter":"datum.tid=='AT229'"}],"mark":{"type":"rect","color":"#f8d8b6"},"encoding":{"y":{"field":"row","type":"nominal","scale":{"type":"band","domain":["h1","h2","r1","r2","r3"],"paddingInner":0,"paddingOuter":0},"axis":null}}},
      {"data":{"name":"hdr"},"transform":[{"filter":"datum.row=='h2'"}],"mark":{"type":"text","baseline":"middle","dy":-18.5,"fontWeight":"bold","lineBreak":"\n","lineHeight":41},"encoding":{"y":{"field":"row","type":"nominal","bandPosition":0,"scale":{"type":"band","domain":["h1","h2","r1","r2","r3"],"paddingInner":0,"paddingOuter":0},"axis":null},"text":{"field":"combo"}}},
      {"data":{"name":"tbl"},"transform":[{"filter":"datum.tid=='AT229'"}],"mark":{"type":"text","baseline":"middle","dy":2},"encoding":{"y":{"field":"row","type":"nominal","scale":{"type":"band","domain":["h1","h2","r1","r2","r3"],"paddingInner":0,"paddingOuter":0},"axis":null},"text":{"field":"combo"}}},
      {"data":{"name":"tbl"},"transform":[{"filter":"datum.tid=='AT229' && datum.row=='r1'"}],"mark":{"type":"rule","strokeWidth":3,"color":"#231f20"},"encoding":{"y":{"field":"row","type":"nominal","bandPosition":0,"scale":{"type":"band","domain":["h1","h2","r1","r2","r3"],"paddingInner":0,"paddingOuter":0},"axis":null}}}
     ]},
     {"width":309,"height":{"step":47},"layer":[
      {"data":{"name":"hdr"},"mark":{"type":"rect","color":"#a6a7aa"},"encoding":{"y":{"field":"row","type":"nominal","scale":{"type":"band","domain":["h1","h2","r1","r2","r3"],"paddingInner":0,"paddingOuter":0},"axis":null}}},
      {"data":{"name":"tbl"},"transform":[{"filter":"datum.tid=='AT229'"}],"mark":{"type":"rect","color":"#e1e2e4"},"encoding":{"y":{"field":"row","type":"nominal","scale":{"type":"band","domain":["h1","h2","r1","r2","r3"],"paddingInner":0,"paddingOuter":0},"axis":null}}},
      {"data":{"name":"hdr"},"transform":[{"filter":"datum.row=='h2'"}],"mark":{"type":"text","baseline":"middle","dy":2,"fontWeight":"bold"},"encoding":{"y":{"field":"row","type":"nominal","bandPosition":0,"scale":{"type":"band","domain":["h1","h2","r1","r2","r3"],"paddingInner":0,"paddingOuter":0},"axis":null},"text":{"field":"gmr"}}},
      {"data":{"name":"tbl"},"transform":[{"filter":"datum.tid=='AT229'"}],"mark":{"type":"text","baseline":"middle","dy":2},"encoding":{"y":{"field":"row","type":"nominal","scale":{"type":"band","domain":["h1","h2","r1","r2","r3"],"paddingInner":0,"paddingOuter":0},"axis":null},"text":{"field":"gmr"}}},
      {"data":{"name":"tbl"},"transform":[{"filter":"datum.tid=='AT229' && datum.row=='r1'"}],"mark":{"type":"rule","strokeWidth":3,"color":"#231f20"},"encoding":{"y":{"field":"row","type":"nominal","bandPosition":0,"scale":{"type":"band","domain":["h1","h2","r1","r2","r3"],"paddingInner":0,"paddingOuter":0},"axis":null}}}
     ]}
    ],"spacing":0,"bounds":"flush"}
   ],"spacing":13},
   {"vconcat":[
    {"width":1027,"height":471,
     "title":{"text":"AT-273","offset":-84,"baseline":"alphabetic"},
     "data":{"name":"pk"},
     "encoding":{
      "x":{"field":"time","type":"quantitative","scale":{"domain":[0,24],"nice":false,"zero":false},"axis":{"values":[0,2,4,6,8,10,12,14,16,18,20,22,24],"title":"Time (h)"}},
      "y":{"field":"conc","type":"quantitative","scale":{"domain":[0,250],"nice":false},"axis":{"values":[0,50,100,150,200,250],"title":"Mean plasma concentration (ng/mL)"}}},
     "layer":[
      {"transform":[{"filter":"datum.drug=='AT273' && datum.arm=='A'"}],"mark":{"type":"line","color":"#19b38b","strokeWidth":3.5}},
      {"transform":[{"filter":"datum.drug=='AT273' && datum.arm=='A'"}],"mark":{"type":"point","shape":"circle","filled":true,"fill":"white","stroke":"#19b38b","strokeWidth":3,"size":330,"opacity":1}},
      {"transform":[{"filter":"datum.drug=='AT273' && datum.arm=='B'"}],"mark":{"type":"line","color":"#e8902f","strokeWidth":3.5}},
      {"transform":[{"filter":"datum.drug=='AT273' && datum.arm=='B'"}],"mark":{"type":"point","shape":"square","filled":true,"fill":"white","stroke":"#e8902f","strokeWidth":3,"size":340,"opacity":1}}
     ]},
    {"hconcat":[
     {"width":246,"height":{"step":46.5},"layer":[
      {"data":{"name":"hdr"},"transform":[{"filter":"datum.row=='h2'"}],"mark":{"type":"text","align":"left","baseline":"middle","dy":2,"fontWeight":"bold"},"encoding":{"x":{"datum":0,"type":"quantitative","scale":{"domain":[0,1]},"axis":null},"y":{"field":"row","type":"nominal","bandPosition":0,"scale":{"type":"band","domain":["h1","h2","r1","r2","r3","r4"],"paddingInner":0,"paddingOuter":0},"axis":null},"text":{"field":"param"}}},
      {"data":{"name":"tbl"},"transform":[{"filter":"datum.tid=='AT273'"}],"mark":{"type":"text","align":"left","baseline":"middle","dy":2},"encoding":{"x":{"datum":0,"type":"quantitative","scale":{"domain":[0,1]},"axis":null},"y":{"field":"row","type":"nominal","scale":{"type":"band","domain":["h1","h2","r1","r2","r3","r4"],"paddingInner":0,"paddingOuter":0},"axis":null},"text":{"field":"base"}}},
      {"data":{"name":"tbl"},"transform":[{"filter":"datum.tid=='AT273' && datum.base=='T'"}],"mark":{"type":"text","align":"left","baseline":"middle","dy":16.7,"dx":20.5,"fontSize":19},"encoding":{"x":{"datum":0,"type":"quantitative","scale":{"domain":[0,1]},"axis":null},"y":{"field":"row","type":"nominal","scale":{"type":"band","domain":["h1","h2","r1","r2","r3","r4"],"paddingInner":0,"paddingOuter":0},"axis":null},"text":{"field":"sub"}}},
      {"data":{"name":"tbl"},"transform":[{"filter":"datum.tid=='AT273' && datum.base=='C'"}],"mark":{"type":"text","align":"left","baseline":"middle","dy":16.7,"dx":24,"fontSize":19},"encoding":{"x":{"datum":0,"type":"quantitative","scale":{"domain":[0,1]},"axis":null},"y":{"field":"row","type":"nominal","scale":{"type":"band","domain":["h1","h2","r1","r2","r3","r4"],"paddingInner":0,"paddingOuter":0},"axis":null},"text":{"field":"sub"}}},
      {"data":{"name":"tbl"},"transform":[{"filter":"datum.tid=='AT273' && datum.base=='AUC'"}],"mark":{"type":"text","align":"left","baseline":"middle","dy":16.7,"dx":70,"fontSize":19},"encoding":{"x":{"datum":0,"type":"quantitative","scale":{"domain":[0,1]},"axis":null},"y":{"field":"row","type":"nominal","scale":{"type":"band","domain":["h1","h2","r1","r2","r3","r4"],"paddingInner":0,"paddingOuter":0},"axis":null},"text":{"field":"sub"}}},
      {"data":{"name":"tbl"},"transform":[{"filter":"datum.tid=='AT273' && datum.base=='T'"}],"mark":{"type":"text","align":"left","baseline":"middle","dy":2,"dx":65.6},"encoding":{"x":{"datum":0,"type":"quantitative","scale":{"domain":[0,1]},"axis":null},"y":{"field":"row","type":"nominal","scale":{"type":"band","domain":["h1","h2","r1","r2","r3","r4"],"paddingInner":0,"paddingOuter":0},"axis":null},"text":{"field":"unit"}}},
      {"data":{"name":"tbl"},"transform":[{"filter":"datum.tid=='AT273' && datum.base=='C' && datum.sub=='max'"}],"mark":{"type":"text","align":"left","baseline":"middle","dy":2,"dx":69.1},"encoding":{"x":{"datum":0,"type":"quantitative","scale":{"domain":[0,1]},"axis":null},"y":{"field":"row","type":"nominal","scale":{"type":"band","domain":["h1","h2","r1","r2","r3","r4"],"paddingInner":0,"paddingOuter":0},"axis":null},"text":{"field":"unit"}}},
      {"data":{"name":"tbl"},"transform":[{"filter":"datum.tid=='AT273' && datum.base=='C' && datum.sub=='τ'"}],"mark":{"type":"text","align":"left","baseline":"middle","dy":2,"dx":42.2},"encoding":{"x":{"datum":0,"type":"quantitative","scale":{"domain":[0,1]},"axis":null},"y":{"field":"row","type":"nominal","scale":{"type":"band","domain":["h1","h2","r1","r2","r3","r4"],"paddingInner":0,"paddingOuter":0},"axis":null},"text":{"field":"unit"}}},
      {"data":{"name":"tbl"},"transform":[{"filter":"datum.tid=='AT273' && datum.base=='AUC' && datum.sub=='τ'"}],"mark":{"type":"text","align":"left","baseline":"middle","dy":2,"dx":88.2},"encoding":{"x":{"datum":0,"type":"quantitative","scale":{"domain":[0,1]},"axis":null},"y":{"field":"row","type":"nominal","scale":{"type":"band","domain":["h1","h2","r1","r2","r3","r4"],"paddingInner":0,"paddingOuter":0},"axis":null},"text":{"field":"unit"}}},
      {"data":{"name":"tbl"},"transform":[{"filter":"datum.tid=='AT273' && datum.row=='r1'"}],"mark":{"type":"rule","strokeWidth":3,"color":"#231f20"},"encoding":{"y":{"field":"row","type":"nominal","bandPosition":0,"scale":{"type":"band","domain":["h1","h2","r1","r2","r3","r4"],"paddingInner":0,"paddingOuter":0},"axis":null}}}
     ]},
     {"width":245,"height":{"step":46.5},"layer":[
      {"data":{"name":"hdr"},"mark":{"type":"rect","color":"#17b68b"},"encoding":{"y":{"field":"row","type":"nominal","scale":{"type":"band","domain":["h1","h2","r1","r2","r3","r4"],"paddingInner":0,"paddingOuter":0},"axis":null}}},
      {"data":{"name":"tbl"},"transform":[{"filter":"datum.tid=='AT273'"}],"mark":{"type":"rect","color":"#c4e5d7"},"encoding":{"y":{"field":"row","type":"nominal","scale":{"type":"band","domain":["h1","h2","r1","r2","r3","r4"],"paddingInner":0,"paddingOuter":0},"axis":null}}},
      {"data":{"name":"hdr"},"transform":[{"filter":"datum.row=='h2'"}],"mark":{"type":"text","baseline":"middle","dy":-18.5,"fontWeight":"bold","lineBreak":"\n","lineHeight":41},"encoding":{"y":{"field":"row","type":"nominal","bandPosition":0,"scale":{"type":"band","domain":["h1","h2","r1","r2","r3","r4"],"paddingInner":0,"paddingOuter":0},"axis":null},"text":{"field":"alone"}}},
      {"data":{"name":"tbl"},"transform":[{"filter":"datum.tid=='AT273'"}],"mark":{"type":"text","baseline":"middle","dy":2},"encoding":{"y":{"field":"row","type":"nominal","scale":{"type":"band","domain":["h1","h2","r1","r2","r3","r4"],"paddingInner":0,"paddingOuter":0},"axis":null},"text":{"field":"alone"}}},
      {"data":{"name":"tbl"},"transform":[{"filter":"datum.tid=='AT273' && datum.row=='r1'"}],"mark":{"type":"rule","strokeWidth":3,"color":"#231f20"},"encoding":{"y":{"field":"row","type":"nominal","bandPosition":0,"scale":{"type":"band","domain":["h1","h2","r1","r2","r3","r4"],"paddingInner":0,"paddingOuter":0},"axis":null}}}
     ]},
     {"width":248,"height":{"step":46.5},"layer":[
      {"data":{"name":"hdr"},"mark":{"type":"rect","color":"#e8902f"},"encoding":{"y":{"field":"row","type":"nominal","scale":{"type":"band","domain":["h1","h2","r1","r2","r3","r4"],"paddingInner":0,"paddingOuter":0},"axis":null}}},
      {"data":{"name":"tbl"},"transform":[{"filter":"datum.tid=='AT273'"}],"mark":{"type":"rect","color":"#f8d8b6"},"encoding":{"y":{"field":"row","type":"nominal","scale":{"type":"band","domain":["h1","h2","r1","r2","r3","r4"],"paddingInner":0,"paddingOuter":0},"axis":null}}},
      {"data":{"name":"hdr"},"transform":[{"filter":"datum.row=='h2'"}],"mark":{"type":"text","baseline":"middle","dy":-18.5,"fontWeight":"bold","lineBreak":"\n","lineHeight":41},"encoding":{"y":{"field":"row","type":"nominal","bandPosition":0,"scale":{"type":"band","domain":["h1","h2","r1","r2","r3","r4"],"paddingInner":0,"paddingOuter":0},"axis":null},"text":{"field":"combo"}}},
      {"data":{"name":"tbl"},"transform":[{"filter":"datum.tid=='AT273'"}],"mark":{"type":"text","baseline":"middle","dy":2},"encoding":{"y":{"field":"row","type":"nominal","scale":{"type":"band","domain":["h1","h2","r1","r2","r3","r4"],"paddingInner":0,"paddingOuter":0},"axis":null},"text":{"field":"combo"}}},
      {"data":{"name":"tbl"},"transform":[{"filter":"datum.tid=='AT273' && datum.row=='r1'"}],"mark":{"type":"rule","strokeWidth":3,"color":"#231f20"},"encoding":{"y":{"field":"row","type":"nominal","bandPosition":0,"scale":{"type":"band","domain":["h1","h2","r1","r2","r3","r4"],"paddingInner":0,"paddingOuter":0},"axis":null}}}
     ]},
     {"width":309,"height":{"step":46.5},"layer":[
      {"data":{"name":"hdr"},"mark":{"type":"rect","color":"#a6a7aa"},"encoding":{"y":{"field":"row","type":"nominal","scale":{"type":"band","domain":["h1","h2","r1","r2","r3","r4"],"paddingInner":0,"paddingOuter":0},"axis":null}}},
      {"data":{"name":"tbl"},"transform":[{"filter":"datum.tid=='AT273'"}],"mark":{"type":"rect","color":"#e1e2e4"},"encoding":{"y":{"field":"row","type":"nominal","scale":{"type":"band","domain":["h1","h2","r1","r2","r3","r4"],"paddingInner":0,"paddingOuter":0},"axis":null}}},
      {"data":{"name":"hdr"},"transform":[{"filter":"datum.row=='h2'"}],"mark":{"type":"text","baseline":"middle","dy":2,"fontWeight":"bold"},"encoding":{"y":{"field":"row","type":"nominal","bandPosition":0,"scale":{"type":"band","domain":["h1","h2","r1","r2","r3","r4"],"paddingInner":0,"paddingOuter":0},"axis":null},"text":{"field":"gmr"}}},
      {"data":{"name":"tbl"},"transform":[{"filter":"datum.tid=='AT273'"}],"mark":{"type":"text","baseline":"middle","dy":2},"encoding":{"y":{"field":"row","type":"nominal","scale":{"type":"band","domain":["h1","h2","r1","r2","r3","r4"],"paddingInner":0,"paddingOuter":0},"axis":null},"text":{"field":"gmr"}}},
      {"data":{"name":"tbl"},"transform":[{"filter":"datum.tid=='AT273' && datum.row=='r1'"}],"mark":{"type":"rule","strokeWidth":3,"color":"#231f20"},"encoding":{"y":{"field":"row","type":"nominal","bandPosition":0,"scale":{"type":"band","domain":["h1","h2","r1","r2","r3","r4"],"paddingInner":0,"paddingOuter":0},"axis":null}}}
     ]}
    ],"spacing":0,"bounds":"flush"}
   ],"spacing":13}
  ],"spacing":34}
 ],"spacing":76},
 {"hconcat":[
  {"width":444,"height":10,"data":{"values":[]},"mark":"point"},
  {"vconcat":[
   {"width":1031,"height":461,
    "title":{"text":"RZR","offset":-93,"baseline":"alphabetic"},
    "data":{"name":"pk"},
    "encoding":{
     "x":{"field":"time","type":"quantitative","scale":{"domain":[0,24],"nice":false,"zero":false},"axis":{"values":[0,2,4,6,8,10,12,14,16,18,20,22,24],"title":"Time (h)","titlePadding":5}},
     "y":{"field":"conc","type":"quantitative","scale":{"domain":[0,200],"nice":false},"axis":{"values":[0,40,80,120,160,200],"title":"Mean plasma concentration (ng/mL)"}}},
    "layer":[
     {"transform":[{"filter":"datum.drug=='RZR' && datum.arm=='A'"}],"mark":{"type":"line","color":"#19b38b","strokeWidth":3.5}},
     {"transform":[{"filter":"datum.drug=='RZR' && datum.arm=='A'"}],"mark":{"type":"point","shape":"circle","filled":true,"fill":"white","stroke":"#19b38b","strokeWidth":3,"size":330,"opacity":1}},
     {"transform":[{"filter":"datum.drug=='RZR' && datum.arm=='B'"}],"mark":{"type":"line","color":"#e8902f","strokeWidth":3.5}},
     {"transform":[{"filter":"datum.drug=='RZR' && datum.arm=='B'"}],"mark":{"type":"point","shape":"square","filled":true,"fill":"white","stroke":"#e8902f","strokeWidth":3,"size":340,"opacity":1}}
    ]},
   {"hconcat":[
    {"width":247,"height":{"step":46.5},"layer":[
     {"data":{"name":"hdr"},"transform":[{"filter":"datum.row=='h2'"}],"mark":{"type":"text","align":"left","baseline":"middle","dy":2,"fontWeight":"bold"},"encoding":{"x":{"datum":0,"type":"quantitative","scale":{"domain":[0,1]},"axis":null},"y":{"field":"row","type":"nominal","bandPosition":0,"scale":{"type":"band","domain":["h1","h2","r1","r2","r3","r4"],"paddingInner":0,"paddingOuter":0},"axis":null},"text":{"field":"param"}}},
     {"data":{"name":"tbl"},"transform":[{"filter":"datum.tid=='RZR'"}],"mark":{"type":"text","align":"left","baseline":"middle","dy":2},"encoding":{"x":{"datum":0,"type":"quantitative","scale":{"domain":[0,1]},"axis":null},"y":{"field":"row","type":"nominal","scale":{"type":"band","domain":["h1","h2","r1","r2","r3","r4"],"paddingInner":0,"paddingOuter":0},"axis":null},"text":{"field":"base"}}},
     {"data":{"name":"tbl"},"transform":[{"filter":"datum.tid=='RZR' && datum.base=='T'"}],"mark":{"type":"text","align":"left","baseline":"middle","dy":16.7,"dx":20.5,"fontSize":19},"encoding":{"x":{"datum":0,"type":"quantitative","scale":{"domain":[0,1]},"axis":null},"y":{"field":"row","type":"nominal","scale":{"type":"band","domain":["h1","h2","r1","r2","r3","r4"],"paddingInner":0,"paddingOuter":0},"axis":null},"text":{"field":"sub"}}},
     {"data":{"name":"tbl"},"transform":[{"filter":"datum.tid=='RZR' && datum.base=='C'"}],"mark":{"type":"text","align":"left","baseline":"middle","dy":16.7,"dx":24,"fontSize":19},"encoding":{"x":{"datum":0,"type":"quantitative","scale":{"domain":[0,1]},"axis":null},"y":{"field":"row","type":"nominal","scale":{"type":"band","domain":["h1","h2","r1","r2","r3","r4"],"paddingInner":0,"paddingOuter":0},"axis":null},"text":{"field":"sub"}}},
     {"data":{"name":"tbl"},"transform":[{"filter":"datum.tid=='RZR' && datum.base=='AUC'"}],"mark":{"type":"text","align":"left","baseline":"middle","dy":16.7,"dx":70,"fontSize":19},"encoding":{"x":{"datum":0,"type":"quantitative","scale":{"domain":[0,1]},"axis":null},"y":{"field":"row","type":"nominal","scale":{"type":"band","domain":["h1","h2","r1","r2","r3","r4"],"paddingInner":0,"paddingOuter":0},"axis":null},"text":{"field":"sub"}}},
     {"data":{"name":"tbl"},"transform":[{"filter":"datum.tid=='RZR' && datum.base=='T'"}],"mark":{"type":"text","align":"left","baseline":"middle","dy":2,"dx":65.6},"encoding":{"x":{"datum":0,"type":"quantitative","scale":{"domain":[0,1]},"axis":null},"y":{"field":"row","type":"nominal","scale":{"type":"band","domain":["h1","h2","r1","r2","r3","r4"],"paddingInner":0,"paddingOuter":0},"axis":null},"text":{"field":"unit"}}},
     {"data":{"name":"tbl"},"transform":[{"filter":"datum.tid=='RZR' && datum.base=='C' && datum.sub=='max'"}],"mark":{"type":"text","align":"left","baseline":"middle","dy":2,"dx":69.1},"encoding":{"x":{"datum":0,"type":"quantitative","scale":{"domain":[0,1]},"axis":null},"y":{"field":"row","type":"nominal","scale":{"type":"band","domain":["h1","h2","r1","r2","r3","r4"],"paddingInner":0,"paddingOuter":0},"axis":null},"text":{"field":"unit"}}},
     {"data":{"name":"tbl"},"transform":[{"filter":"datum.tid=='RZR' && datum.base=='C' && datum.sub=='τ'"}],"mark":{"type":"text","align":"left","baseline":"middle","dy":2,"dx":42.2},"encoding":{"x":{"datum":0,"type":"quantitative","scale":{"domain":[0,1]},"axis":null},"y":{"field":"row","type":"nominal","scale":{"type":"band","domain":["h1","h2","r1","r2","r3","r4"],"paddingInner":0,"paddingOuter":0},"axis":null},"text":{"field":"unit"}}},
     {"data":{"name":"tbl"},"transform":[{"filter":"datum.tid=='RZR' && datum.base=='AUC' && datum.sub=='τ'"}],"mark":{"type":"text","align":"left","baseline":"middle","dy":2,"dx":88.2},"encoding":{"x":{"datum":0,"type":"quantitative","scale":{"domain":[0,1]},"axis":null},"y":{"field":"row","type":"nominal","scale":{"type":"band","domain":["h1","h2","r1","r2","r3","r4"],"paddingInner":0,"paddingOuter":0},"axis":null},"text":{"field":"unit"}}},
     {"data":{"name":"tbl"},"transform":[{"filter":"datum.tid=='RZR' && datum.row=='r1'"}],"mark":{"type":"rule","strokeWidth":3,"color":"#231f20"},"encoding":{"y":{"field":"row","type":"nominal","bandPosition":0,"scale":{"type":"band","domain":["h1","h2","r1","r2","r3","r4"],"paddingInner":0,"paddingOuter":0},"axis":null}}}
    ]},
    {"width":247,"height":{"step":46.5},"layer":[
     {"data":{"name":"hdr"},"mark":{"type":"rect","color":"#17b68b"},"encoding":{"y":{"field":"row","type":"nominal","scale":{"type":"band","domain":["h1","h2","r1","r2","r3","r4"],"paddingInner":0,"paddingOuter":0},"axis":null}}},
     {"data":{"name":"tbl"},"transform":[{"filter":"datum.tid=='RZR'"}],"mark":{"type":"rect","color":"#c4e5d7"},"encoding":{"y":{"field":"row","type":"nominal","scale":{"type":"band","domain":["h1","h2","r1","r2","r3","r4"],"paddingInner":0,"paddingOuter":0},"axis":null}}},
     {"data":{"name":"hdr"},"transform":[{"filter":"datum.row=='h2'"}],"mark":{"type":"text","baseline":"middle","dy":-18.5,"fontWeight":"bold","lineBreak":"\n","lineHeight":41},"encoding":{"y":{"field":"row","type":"nominal","bandPosition":0,"scale":{"type":"band","domain":["h1","h2","r1","r2","r3","r4"],"paddingInner":0,"paddingOuter":0},"axis":null},"text":{"field":"alone"}}},
     {"data":{"name":"tbl"},"transform":[{"filter":"datum.tid=='RZR'"}],"mark":{"type":"text","baseline":"middle","dy":2},"encoding":{"y":{"field":"row","type":"nominal","scale":{"type":"band","domain":["h1","h2","r1","r2","r3","r4"],"paddingInner":0,"paddingOuter":0},"axis":null},"text":{"field":"alone"}}},
     {"data":{"name":"tbl"},"transform":[{"filter":"datum.tid=='RZR' && datum.row=='r1'"}],"mark":{"type":"rule","strokeWidth":3,"color":"#231f20"},"encoding":{"y":{"field":"row","type":"nominal","bandPosition":0,"scale":{"type":"band","domain":["h1","h2","r1","r2","r3","r4"],"paddingInner":0,"paddingOuter":0},"axis":null}}}
    ]},
    {"width":248,"height":{"step":46.5},"layer":[
     {"data":{"name":"hdr"},"mark":{"type":"rect","color":"#e8902f"},"encoding":{"y":{"field":"row","type":"nominal","scale":{"type":"band","domain":["h1","h2","r1","r2","r3","r4"],"paddingInner":0,"paddingOuter":0},"axis":null}}},
     {"data":{"name":"tbl"},"transform":[{"filter":"datum.tid=='RZR'"}],"mark":{"type":"rect","color":"#f8d8b6"},"encoding":{"y":{"field":"row","type":"nominal","scale":{"type":"band","domain":["h1","h2","r1","r2","r3","r4"],"paddingInner":0,"paddingOuter":0},"axis":null}}},
     {"data":{"name":"hdr"},"transform":[{"filter":"datum.row=='h2'"}],"mark":{"type":"text","baseline":"middle","dy":-18.5,"fontWeight":"bold","lineBreak":"\n","lineHeight":41},"encoding":{"y":{"field":"row","type":"nominal","bandPosition":0,"scale":{"type":"band","domain":["h1","h2","r1","r2","r3","r4"],"paddingInner":0,"paddingOuter":0},"axis":null},"text":{"field":"combo"}}},
     {"data":{"name":"tbl"},"transform":[{"filter":"datum.tid=='RZR'"}],"mark":{"type":"text","baseline":"middle","dy":2},"encoding":{"y":{"field":"row","type":"nominal","scale":{"type":"band","domain":["h1","h2","r1","r2","r3","r4"],"paddingInner":0,"paddingOuter":0},"axis":null},"text":{"field":"combo"}}},
     {"data":{"name":"tbl"},"transform":[{"filter":"datum.tid=='RZR' && datum.row=='r1'"}],"mark":{"type":"rule","strokeWidth":3,"color":"#231f20"},"encoding":{"y":{"field":"row","type":"nominal","bandPosition":0,"scale":{"type":"band","domain":["h1","h2","r1","r2","r3","r4"],"paddingInner":0,"paddingOuter":0},"axis":null}}}
    ]},
    {"width":310,"height":{"step":46.5},"layer":[
     {"data":{"name":"hdr"},"mark":{"type":"rect","color":"#a6a7aa"},"encoding":{"y":{"field":"row","type":"nominal","scale":{"type":"band","domain":["h1","h2","r1","r2","r3","r4"],"paddingInner":0,"paddingOuter":0},"axis":null}}},
     {"data":{"name":"tbl"},"transform":[{"filter":"datum.tid=='RZR'"}],"mark":{"type":"rect","color":"#e1e2e4"},"encoding":{"y":{"field":"row","type":"nominal","scale":{"type":"band","domain":["h1","h2","r1","r2","r3","r4"],"paddingInner":0,"paddingOuter":0},"axis":null}}},
     {"data":{"name":"hdr"},"transform":[{"filter":"datum.row=='h2'"}],"mark":{"type":"text","baseline":"middle","dy":2,"fontWeight":"bold"},"encoding":{"y":{"field":"row","type":"nominal","bandPosition":0,"scale":{"type":"band","domain":["h1","h2","r1","r2","r3","r4"],"paddingInner":0,"paddingOuter":0},"axis":null},"text":{"field":"gmr"}}},
     {"data":{"name":"tbl"},"transform":[{"filter":"datum.tid=='RZR'"}],"mark":{"type":"text","baseline":"middle","dy":2},"encoding":{"y":{"field":"row","type":"nominal","scale":{"type":"band","domain":["h1","h2","r1","r2","r3","r4"],"paddingInner":0,"paddingOuter":0},"axis":null},"text":{"field":"gmr"}}},
     {"data":{"name":"tbl"},"transform":[{"filter":"datum.tid=='RZR' && datum.row=='r1'"}],"mark":{"type":"rule","strokeWidth":3,"color":"#231f20"},"encoding":{"y":{"field":"row","type":"nominal","bandPosition":0,"scale":{"type":"band","domain":["h1","h2","r1","r2","r3","r4"],"paddingInner":0,"paddingOuter":0},"axis":null}}}
    ]}
   ],"spacing":0,"bounds":"flush"}
  ],"spacing":13}
 ],"spacing":0}
],"spacing":74}
